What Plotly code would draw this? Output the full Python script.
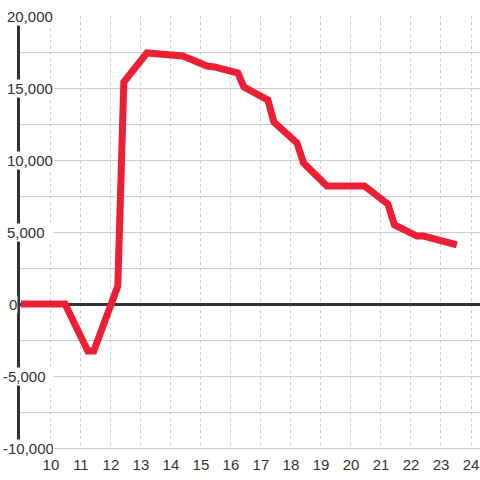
import plotly.graph_objects as go

# series
hours = [9.0, 10.47, 11.23, 11.43, 12.23, 12.43, 13.2, 14.4, 15.2, 15.45, 16.23, 16.43,
         17.23, 17.43, 18.2, 18.42, 19.2, 20.45, 21.23, 21.45, 22.2, 22.42, 23.53]
values = [0, 0, -3260, -3260, 1250, 15420, 17430, 17220, 16530, 16460, 16040, 15070,
          14170, 12640, 11180, 9790, 8190, 8190, 6940, 5490, 4720, 4720, 4100]

x_ticks = list(range(10, 25))
y_grid = [-10000, -7500, -5000, -2500, 0, 2500, 5000, 7500, 10000, 12500, 15000, 17500, 20000]
y_labels = [-10000, -5000, 0, 5000, 10000, 15000, 20000]

RED = "#ED1F35"
INK = "#333333"
GRID = "#cccccc"
FONT = "Liberation Sans, Arial, sans-serif"

fig = go.Figure()
fig.add_trace(go.Scatter(x=hours, y=values, mode="lines",
                         line=dict(color=RED, width=7), hoverinfo="skip"))

# y labels sit on top of the axis line with a white box, like the original
plot_w = 460
for v in y_labels:
    txt = "{:,}".format(v)
    if v == 0:
        fig.add_annotation(x=(8 - 20) / plot_w, xref="paper", y=v, yref="y",
                           text=txt, showarrow=False, xanchor="left", yanchor="middle",
                           bgcolor="white", borderpad=0,
                           font=dict(family=FONT, size=15, color=INK))
    else:
        left = 2 if v < 0 else 6
        fig.add_annotation(x=(left - 20) / plot_w, xref="paper", y=v, yref="y",
                           text=txt, showarrow=False, xanchor="left", yanchor="middle",
                           width=52 - left, align="left", bgcolor="white", borderpad=0,
                           font=dict(family=FONT, size=15, color=INK))

fig.update_xaxes(range=[8.97, 24.3], tickvals=x_ticks, showgrid=True,
                 gridcolor=GRID, griddash="dot", gridwidth=1, zeroline=False,
                 showline=True, linecolor=GRID, linewidth=1,
                 ticks="outside", ticklen=3, tickcolor="rgba(0,0,0,0)",
                 tickfont=dict(family=FONT, size=15, color=INK), automargin=False)
fig.update_yaxes(range=[-10000, 20000], tickvals=y_grid, showticklabels=False,
                 showgrid=True, gridcolor=GRID, gridwidth=1,
                 zeroline=True, zerolinecolor=INK, zerolinewidth=3,
                 showline=True, linecolor=INK, linewidth=3, ticks="",
                 layer="below traces", automargin=False)

fig.update_layout(width=480, height=480,
                  margin=dict(l=20, r=0, t=16, b=32, autoexpand=False),
                  paper_bgcolor="white", plot_bgcolor="white", showlegend=False,
                  font=dict(family=FONT))

# drop the browser's default body margin so the chart fills the window
fig.write_html("out.html", config={"displayModeBar": False},
               post_script="document.body.style.margin='0';")
